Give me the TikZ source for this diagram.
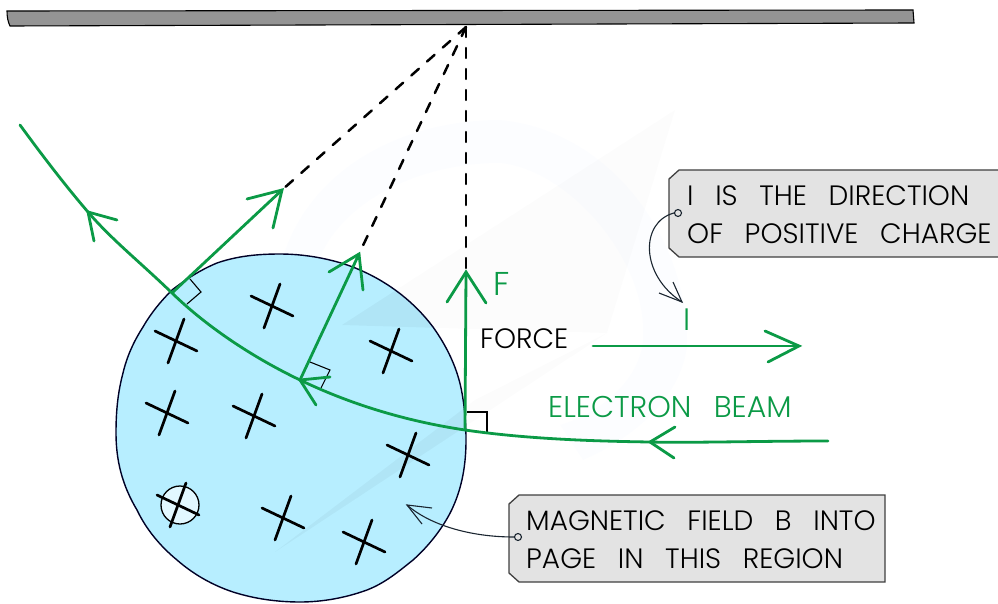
\documentclass[tikz,border=0pt]{standalone}
\usepackage{fontspec}
\setmainfont{Poppins Light}
\usetikzlibrary{calc}
\definecolor{beam}{HTML}{0B9A46}
\definecolor{field}{HTML}{B7EEFF}
\definecolor{boxgrey}{HTML}{E3E3E3}
\definecolor{inkline}{HTML}{1A2530}
\newcommand{\crossat}[1]{\draw[crossline] ($(#1)+(-21,-10)$) -- ($(#1)+(21,10)$); \draw[crossline] ($(#1)+(8,-22)$) -- ($(#1)+(-8,22)$);}
\newcommand{\tipat}[3]{\draw[greenline,line join=miter] (#2) -- (#1) -- (#3);}
\newcommand{\gap}{\hspace{14pt} }
\newcommand{\regionpath}{(280,254) .. controls (310,254) and (340,261) .. (360,270) .. controls (390,283) and (415,303) .. (433,327) .. controls (448,348) and (458,370) .. (462,393) .. controls (465,410) and (466,425) .. (466,440) .. controls (466,465) and (462,487) .. (453,507) .. controls (445,525) and (430,545) .. (413,560) .. controls (398,572) and (385,583) .. (367,590) .. controls (345,598) and (322,602) .. (300,602) .. controls (278,602) and (255,599) .. (233,592) .. controls (212,585) and (193,574) .. (177,560) .. controls (160,546) and (146,529) .. (137,510) .. controls (122,485) and (116,460) .. (116,433) .. controls (116,410) and (118,392) .. (123,373) .. controls (127,356) and (134,341) .. (143,327) .. controls (151,313) and (161,301) .. (172,290) .. controls (185,280) and (200,270) .. (217,263) .. controls (237,256) and (258,254) .. (280,254) -- cycle}
\newcommand{\planeA}{(675,110) -- (342,325) -- (607,333) -- cycle}
\newcommand{\planeB}{(607,333) -- (275,552) -- (475,400) -- cycle}
\tikzset{
  greenline/.style={draw=beam,line width=2.8pt,line cap=round},
  crossline/.style={draw=black,line width=2.7pt,line cap=round},
  dashline/.style={draw=black,line width=2.5pt,line cap=round,dash pattern=on 10pt off 11pt},
  rightmark/.style={draw=black,line width=1.1pt},
  pointer/.style={draw=inkline,line width=1.1pt},
  calloutbox/.style={draw=black!75,line width=1.3pt,fill=boxgrey},
  txt/.style={anchor=base west,inner sep=0pt,font=\fontsize{28}{32}\selectfont},
  gtxt/.style={txt,text=beam},
  wmgrey/.style={fill=black,opacity=0.012},
  wminner/.style={fill=black,opacity=0.035},
  wmblue/.style={fill=blue!60!cyan,opacity=0.012},
  dotmark/.style={circle,draw=inkline,line width=1.1pt,fill=boxgrey,minimum size=7pt,inner sep=0pt},
}
\begin{document}
\begin{tikzpicture}[x=1pt,y=-1pt]
\useasboundingbox (0,0) rectangle (998,604);
% ceiling bar
\filldraw[fill=black!42,draw=black,line width=1.1pt] (7,11) -- (913,10) -- (914,23) -- (10,26) .. controls (8,22) and (7,17) .. cycle;
% faint backdrop on paper
\fill[wmgrey] \planeA;
\fill[wmgrey] \planeB;
\fill[wmblue] (283,257) .. controls (310,170) and (400,120) .. (500,120) .. controls (610,130) and (690,240) .. (687,347) .. controls (680,400) and (630,440) .. (583,460) -- (560,425) .. controls (610,410) and (645,370) .. (643,333) .. controls (645,260) and (570,170) .. (500,163) .. controls (420,163) and (345,200) .. (320,257) -- cycle;
% magnetic region
\fill[field] \regionpath;
\begin{scope}
\clip \regionpath;
\fill[wminner] \planeA;
\fill[wminner] \planeB;
\end{scope}
\draw[draw=black!85!blue,line width=1.4pt] \regionpath;
% key points
\coordinate (apex) at (466,27);
\coordinate (tipA) at (282,190);
\coordinate (tipB) at (359,254);
\coordinate (tipC) at (466,272);
\coordinate (beamA) at (172,293);
\coordinate (beamB) at (300,380);
\coordinate (beamC) at (465,430);
\coordinate (beamS) at (828,441);
\coordinate (beamM) at (88,212);
\coordinate (beamE) at (20,125);
% dashed threads
\draw[dashline] (apex) -- (tipA);
\draw[dashline] (apex) -- (tipB);
\draw[dashline] (apex) -- (tipC);
% right-angle marks
\draw[rightmark] (190,279) -- (201,292) -- (187,304);
\draw[rightmark] (310,362) -- (330,370) -- (321,388);
\draw[rightmark] (467,412) -- (487,412) -- (487,432);
% crosses
\crossat{272,306}\crossat{176,341}\crossat{391,351}\crossat{167,413}\crossat{254,416}\crossat{408,455}\crossat{283,518}\crossat{364,542}
\filldraw[fill=field!40!white,draw=black,line width=1.3pt] (180,505) circle (19);
\crossat{178,505}
% beam
\draw[greenline] (beamS) .. controls (760,441) and (690,443) .. (650,442) .. controls (580,441) and (520,438) .. (beamC) .. controls (405,421) and (350,404) .. (beamB) .. controls (250,356) and (205,325) .. (beamA) .. controls (140,262) and (112,240) .. (beamM) .. controls (64,184) and (42,155) .. (beamE);
% forces
\draw[greenline] (beamA) -- (tipA);
\draw[greenline] (beamB) -- (tipB);
\draw[greenline] (beamC) -- (tipC);
\tipat{tipA}{247,199}{273,228}
\tipat{tipB}{329,272}{363,290}
\tipat{tipC}{447,302}{486,303}
\tipat{650,442}{675,427}{674,458}
\tipat{beamB}{330,377}{316,405}
\tipat{beamM}{117,220}{94,241}
% current arrow
\coordinate (iS) at (593,346);
\coordinate (iE) at (799,346);
\draw[greenline] (iS) -- (iE);
\tipat{iE}{765,331}{768,362}
% labels
\node[gtxt,font=\fontsize{33}{36}\selectfont] (labF) at (493,295) {F};
\node[gtxt,font=\fontsize{31}{34}\selectfont] (labI) at (683,330) {I};
\node[txt] (labForce) at (480,348) {FORCE};
\node[gtxt,font=\fontsize{30}{32}\selectfont] (labBeam) at (548,417) {ELECTRON\gap BEAM};
% callouts
\path[calloutbox] (679,170) -- (1000,170) -- (1000,257) -- (679,257) -- (669,248) -- (669,179) -- cycle;
\path[calloutbox] (519,495) -- (885,495) -- (885,582) -- (519,582) -- (509,573) -- (509,504) -- cycle;
\node[txt] (t1a) at (687,205) {I\gap IS\gap THE\gap DIRECTION};
\node[txt] (t1b) at (687,243) {OF\gap POSITIVE\gap CHARGE};
\node[txt] (t2a) at (526,530) {MAGNETIC\gap FIELD\gap B\gap INTO};
\node[txt] (t2b) at (526,568) {PAGE\gap IN\gap THIS\gap REGION};
% pointers
\node[dotmark] (dotA) at (678,213) {};
\node[dotmark] (dotB) at (518,537) {};
\coordinate (ptrA) at (682,302);
\coordinate (ptrB) at (407,505);
\draw[pointer] (dotA.west) .. controls (640,222) and (640,275) .. (ptrA);
\draw[pointer] (659,293) -- (ptrA) -- (673,282);
\draw[pointer] (dotB.west) .. controls (470,537) and (430,525) .. (ptrB);
\draw[pointer] (432,508) -- (ptrB) -- (422,524);
\end{tikzpicture}
\end{document}
